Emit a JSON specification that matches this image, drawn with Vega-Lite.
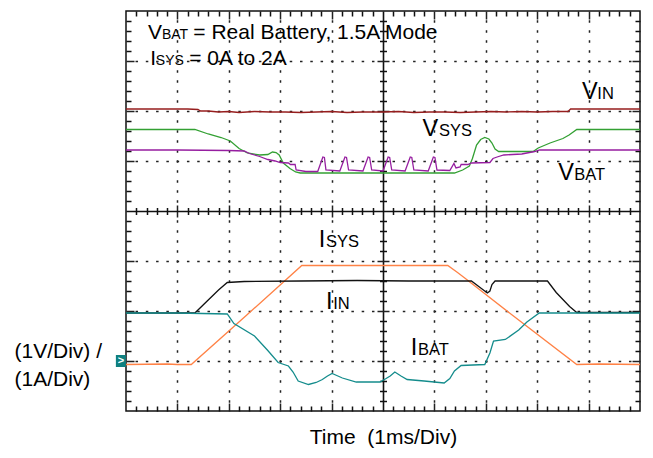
{
  "$schema": "https://vega.github.io/schema/vega-lite/v6.json",
  "width": 514,
  "height": 400,
  "autosize": "none",
  "padding": {"left": 126, "top": 11, "right": 13, "bottom": 47},
  "background": "white",
  "config": {
    "view": {"stroke": "#111", "strokeWidth": 1.5},
    "font": "Liberation Sans",
    "text": {"font": "Liberation Sans", "color": "#000"}
  },
  "datasets": {
    "traces": [
      {"s": "VIN", "x": 0, "y": 6.04}, {"s": "VIN", "x": 0.6, "y": 6.04}, {"s": "VIN", "x": 1.2, "y": 6.04}, {"s": "VIN", "x": 1.4, "y": 6.03}, {"s": "VIN", "x": 1.45, "y": 6.0}, {"s": "VIN", "x": 1.6, "y": 6.0}, {"s": "VIN", "x": 1.8, "y": 5.98}, {"s": "VIN", "x": 2.0, "y": 5.99}, {"s": "VIN", "x": 2.2, "y": 5.97}, {"s": "VIN", "x": 2.5, "y": 5.99}, {"s": "VIN", "x": 2.8, "y": 5.98}, {"s": "VIN", "x": 3.1, "y": 5.98}, {"s": "VIN", "x": 3.4, "y": 5.97}, {"s": "VIN", "x": 3.7, "y": 5.98}, {"s": "VIN", "x": 4.0, "y": 5.99}, {"s": "VIN", "x": 4.3, "y": 5.97}, {"s": "VIN", "x": 4.6, "y": 5.98}, {"s": "VIN", "x": 5.0, "y": 5.98}, {"s": "VIN", "x": 5.3, "y": 5.99}, {"s": "VIN", "x": 5.6, "y": 5.97}, {"s": "VIN", "x": 5.9, "y": 5.98}, {"s": "VIN", "x": 6.2, "y": 5.98}, {"s": "VIN", "x": 6.5, "y": 5.97}, {"s": "VIN", "x": 6.8, "y": 5.98}, {"s": "VIN", "x": 7.1, "y": 5.99}, {"s": "VIN", "x": 7.4, "y": 5.98}, {"s": "VIN", "x": 7.7, "y": 5.99}, {"s": "VIN", "x": 8.0, "y": 5.98}, {"s": "VIN", "x": 8.3, "y": 5.99}, {"s": "VIN", "x": 8.6, "y": 5.99}, {"s": "VIN", "x": 8.65, "y": 6.04}, {"s": "VIN", "x": 9.2, "y": 6.04}, {"s": "VIN", "x": 10, "y": 6.04},

      {"s": "VSYS", "x": 0, "y": 5.63}, {"s": "VSYS", "x": 1.34, "y": 5.63}, {"s": "VSYS", "x": 1.6, "y": 5.54}, {"s": "VSYS", "x": 1.85, "y": 5.47}, {"s": "VSYS", "x": 2.03, "y": 5.4}, {"s": "VSYS", "x": 2.2, "y": 5.25}, {"s": "VSYS", "x": 2.36, "y": 5.16}, {"s": "VSYS", "x": 2.6, "y": 5.12}, {"s": "VSYS", "x": 2.76, "y": 5.13}, {"s": "VSYS", "x": 2.85, "y": 5.18}, {"s": "VSYS", "x": 2.92, "y": 5.17}, {"s": "VSYS", "x": 2.98, "y": 5.12}, {"s": "VSYS", "x": 3.06, "y": 4.96}, {"s": "VSYS", "x": 3.19, "y": 4.85}, {"s": "VSYS", "x": 3.3, "y": 4.78}, {"s": "VSYS", "x": 3.39, "y": 4.76}, {"s": "VSYS", "x": 6.39, "y": 4.76}, {"s": "VSYS", "x": 6.55, "y": 4.82}, {"s": "VSYS", "x": 6.68, "y": 4.9}, {"s": "VSYS", "x": 6.74, "y": 5.05}, {"s": "VSYS", "x": 6.82, "y": 5.32}, {"s": "VSYS", "x": 6.9, "y": 5.43}, {"s": "VSYS", "x": 6.98, "y": 5.47}, {"s": "VSYS", "x": 7.06, "y": 5.44}, {"s": "VSYS", "x": 7.12, "y": 5.36}, {"s": "VSYS", "x": 7.18, "y": 5.24}, {"s": "VSYS", "x": 7.25, "y": 5.19}, {"s": "VSYS", "x": 7.92, "y": 5.19}, {"s": "VSYS", "x": 8.02, "y": 5.26}, {"s": "VSYS", "x": 8.25, "y": 5.36}, {"s": "VSYS", "x": 8.5, "y": 5.45}, {"s": "VSYS", "x": 8.62, "y": 5.52}, {"s": "VSYS", "x": 8.77, "y": 5.63}, {"s": "VSYS", "x": 10, "y": 5.63},

      {"s": "VBAT", "x": 0, "y": 5.22}, {"s": "VBAT", "x": 1.0, "y": 5.22}, {"s": "VBAT", "x": 2.0, "y": 5.21}, {"s": "VBAT", "x": 2.3, "y": 5.2}, {"s": "VBAT", "x": 2.4, "y": 5.15}, {"s": "VBAT", "x": 2.6, "y": 5.09}, {"s": "VBAT", "x": 2.76, "y": 5.03}, {"s": "VBAT", "x": 2.9, "y": 5.0}, {"s": "VBAT", "x": 3.0, "y": 4.97}, {"s": "VBAT", "x": 3.16, "y": 4.96}, {"s": "VBAT", "x": 3.2, "y": 4.93}, {"s": "VBAT", "x": 3.29, "y": 4.93}, {"s": "VBAT", "x": 3.31, "y": 4.82}, {"s": "VBAT", "x": 3.5, "y": 4.79}, {"s": "VBAT", "x": 3.73, "y": 4.79}, {"s": "VBAT", "x": 3.83, "y": 5.08}, {"s": "VBAT", "x": 3.86, "y": 5.07}, {"s": "VBAT", "x": 3.89, "y": 4.82}, {"s": "VBAT", "x": 4.16, "y": 4.8}, {"s": "VBAT", "x": 4.26, "y": 5.08}, {"s": "VBAT", "x": 4.29, "y": 5.07}, {"s": "VBAT", "x": 4.33, "y": 4.82}, {"s": "VBAT", "x": 4.61, "y": 4.8}, {"s": "VBAT", "x": 4.71, "y": 5.08}, {"s": "VBAT", "x": 4.74, "y": 5.07}, {"s": "VBAT", "x": 4.78, "y": 4.82}, {"s": "VBAT", "x": 5.0, "y": 4.8}, {"s": "VBAT", "x": 5.1, "y": 5.08}, {"s": "VBAT", "x": 5.13, "y": 5.07}, {"s": "VBAT", "x": 5.17, "y": 4.82}, {"s": "VBAT", "x": 5.43, "y": 4.8}, {"s": "VBAT", "x": 5.53, "y": 5.08}, {"s": "VBAT", "x": 5.56, "y": 5.07}, {"s": "VBAT", "x": 5.6, "y": 4.82}, {"s": "VBAT", "x": 5.88, "y": 4.8}, {"s": "VBAT", "x": 5.98, "y": 5.08}, {"s": "VBAT", "x": 6.01, "y": 5.07}, {"s": "VBAT", "x": 6.05, "y": 4.82}, {"s": "VBAT", "x": 6.3, "y": 4.81}, {"s": "VBAT", "x": 6.38, "y": 4.95}, {"s": "VBAT", "x": 6.42, "y": 4.86}, {"s": "VBAT", "x": 6.5, "y": 4.88}, {"s": "VBAT", "x": 6.52, "y": 4.93}, {"s": "VBAT", "x": 6.65, "y": 4.93}, {"s": "VBAT", "x": 6.72, "y": 4.96}, {"s": "VBAT", "x": 7.08, "y": 4.97}, {"s": "VBAT", "x": 7.14, "y": 5.05}, {"s": "VBAT", "x": 7.22, "y": 5.08}, {"s": "VBAT", "x": 7.35, "y": 5.12}, {"s": "VBAT", "x": 7.7, "y": 5.14}, {"s": "VBAT", "x": 7.95, "y": 5.19}, {"s": "VBAT", "x": 8.05, "y": 5.22}, {"s": "VBAT", "x": 10, "y": 5.22},

      {"s": "ISYS", "x": 0, "y": 0.93}, {"s": "ISYS", "x": 0.8, "y": 0.94}, {"s": "ISYS", "x": 1.0, "y": 0.93}, {"s": "ISYS", "x": 1.27, "y": 0.93}, {"s": "ISYS", "x": 2.35, "y": 1.92}, {"s": "ISYS", "x": 3.42, "y": 2.91}, {"s": "ISYS", "x": 4.5, "y": 2.91}, {"s": "ISYS", "x": 5.5, "y": 2.91}, {"s": "ISYS", "x": 6.26, "y": 2.91}, {"s": "ISYS", "x": 6.45, "y": 2.77}, {"s": "ISYS", "x": 6.59, "y": 2.66}, {"s": "ISYS", "x": 7.5, "y": 1.93}, {"s": "ISYS", "x": 8.77, "y": 0.93}, {"s": "ISYS", "x": 9.2, "y": 0.94}, {"s": "ISYS", "x": 10, "y": 0.93},

      {"s": "IIN", "x": 0, "y": 1.96}, {"s": "IIN", "x": 1.34, "y": 1.96}, {"s": "IIN", "x": 1.6, "y": 2.22}, {"s": "IIN", "x": 1.8, "y": 2.42}, {"s": "IIN", "x": 1.97, "y": 2.57}, {"s": "IIN", "x": 2.3, "y": 2.59}, {"s": "IIN", "x": 3.4, "y": 2.6}, {"s": "IIN", "x": 4.5, "y": 2.61}, {"s": "IIN", "x": 5.5, "y": 2.6}, {"s": "IIN", "x": 6.72, "y": 2.6}, {"s": "IIN", "x": 6.85, "y": 2.5}, {"s": "IIN", "x": 7.03, "y": 2.36}, {"s": "IIN", "x": 7.08, "y": 2.4}, {"s": "IIN", "x": 7.12, "y": 2.53}, {"s": "IIN", "x": 7.18, "y": 2.6}, {"s": "IIN", "x": 8.2, "y": 2.6}, {"s": "IIN", "x": 8.37, "y": 2.37}, {"s": "IIN", "x": 8.63, "y": 2.09}, {"s": "IIN", "x": 8.77, "y": 1.97}, {"s": "IIN", "x": 10, "y": 1.97},

      {"s": "IBAT", "x": 0, "y": 1.96}, {"s": "IBAT", "x": 1.0, "y": 1.96}, {"s": "IBAT", "x": 1.97, "y": 1.94}, {"s": "IBAT", "x": 2.1, "y": 1.75}, {"s": "IBAT", "x": 2.5, "y": 1.5}, {"s": "IBAT", "x": 2.75, "y": 1.22}, {"s": "IBAT", "x": 2.96, "y": 0.97}, {"s": "IBAT", "x": 3.16, "y": 0.9}, {"s": "IBAT", "x": 3.25, "y": 0.78}, {"s": "IBAT", "x": 3.35, "y": 0.6}, {"s": "IBAT", "x": 3.55, "y": 0.53}, {"s": "IBAT", "x": 3.7, "y": 0.57}, {"s": "IBAT", "x": 3.82, "y": 0.63}, {"s": "IBAT", "x": 3.92, "y": 0.7}, {"s": "IBAT", "x": 4.01, "y": 0.75}, {"s": "IBAT", "x": 4.1, "y": 0.71}, {"s": "IBAT", "x": 4.21, "y": 0.66}, {"s": "IBAT", "x": 4.48, "y": 0.58}, {"s": "IBAT", "x": 4.94, "y": 0.58}, {"s": "IBAT", "x": 5.06, "y": 0.65}, {"s": "IBAT", "x": 5.14, "y": 0.7}, {"s": "IBAT", "x": 5.23, "y": 0.78}, {"s": "IBAT", "x": 5.35, "y": 0.7}, {"s": "IBAT", "x": 5.47, "y": 0.63}, {"s": "IBAT", "x": 5.8, "y": 0.6}, {"s": "IBAT", "x": 6.19, "y": 0.56}, {"s": "IBAT", "x": 6.3, "y": 0.65}, {"s": "IBAT", "x": 6.39, "y": 0.8}, {"s": "IBAT", "x": 6.52, "y": 0.91}, {"s": "IBAT", "x": 6.98, "y": 0.93}, {"s": "IBAT", "x": 7.08, "y": 1.16}, {"s": "IBAT", "x": 7.15, "y": 1.4}, {"s": "IBAT", "x": 7.38, "y": 1.43}, {"s": "IBAT", "x": 7.64, "y": 1.62}, {"s": "IBAT", "x": 7.8, "y": 1.78}, {"s": "IBAT", "x": 8.04, "y": 1.96}, {"s": "IBAT", "x": 10, "y": 1.96}
    ],
    "bigLabels": [
      {"t": "V", "x": 8.87, "y": 6.24}, {"t": "V", "x": 5.77, "y": 5.51}, {"t": "V", "x": 8.41, "y": 4.63},
      {"t": "I", "x": 3.75, "y": 3.29}, {"t": "I", "x": 3.89, "y": 2.04}, {"t": "I", "x": 5.54, "y": 1.13}
    ],
    "subLabels": [
      {"t": "IN", "x": 9.17, "y": 6.24}, {"t": "SYS", "x": 6.09, "y": 5.51}, {"t": "BAT", "x": 8.72, "y": 4.63},
      {"t": "SYS", "x": 3.89, "y": 3.29}, {"t": "IN", "x": 4.03, "y": 2.04}, {"t": "BAT", "x": 5.68, "y": 1.13}
    ],
    "noteMain": [
      {"t": "V", "x": 0.43, "y": 7.44}, {"t": "= Real Battery, 1.5A Mode", "x": 1.31, "y": 7.44},
      {"t": "I", "x": 0.47, "y": 6.92}, {"t": "= 0A to 2A", "x": 1.23, "y": 6.92}
    ],
    "noteSub": [
      {"t": "BAT", "x": 0.7, "y": 7.44}, {"t": "SYS", "x": 0.58, "y": 6.92}
    ],
    "marker": [{"t": ">", "x": -0.1, "y": 1.0}]
  },
  "encoding": {
    "x": {
      "field": "x", "type": "quantitative",
      "scale": {"domain": [0, 10], "nice": false, "zero": false},
      "axis": {
        "values": [0.2,0.4,0.6,0.8,1,1.2,1.4,1.6,1.8,2,2.2,2.4,2.6,2.8,3,3.2,3.4,3.6,3.8,4,4.2,4.4,4.6,4.8,5,5.2,5.4,5.6,5.8,6,6.2,6.4,6.6,6.8,7,7.2,7.4,7.6,7.8,8,8.2,8.4,8.6,8.8,9,9.2,9.4,9.6,9.8],
        "labels": false, "ticks": false, "domain": false, "grid": true,
        "gridColor": {"condition": {"test": "datum.value % 1 === 0 && datum.value !== 5", "value": "#222222"}, "value": "#111111"},
        "gridOpacity": 1,
        "gridWidth": {"condition": {"test": "datum.value === 5", "value": 1.6}, "value": 1.5},
        "gridDash": {
          "condition": [
            {"test": "datum.value === 5", "value": []},
            {"test": "datum.value % 1 !== 0", "value": [5, 191.5, 7, 191.5, 5, 1000]}
          ],
          "value": [8,0.75,2.5,7.5,2.5,7.5,2.5,7.5,2.5,7.5,2.5,7.5,2.5,7.5,2.5,7.5,2.5,7.5,2.5,7.5,2.5,7.5,2.5,7.5,2.5,7.5,2.5,7.5,2.5,7.5,2.5,7.5,2.5,7.5,2.5,7.5,2.5,7.5,2.5,2.75,12,2.75,2.5,7.5,2.5,7.5,2.5,7.5,2.5,7.5,2.5,7.5,2.5,7.5,2.5,7.5,2.5,7.5,2.5,7.5,2.5,7.5,2.5,7.5,2.5,7.5,2.5,7.5,2.5,7.5,2.5,7.5,2.5,7.5,2.5,7.5,2.5,7.5,2.5,0.75,8,1000]
        },
        "title": "Time\u00a0 (1ms/Div)",
        "titleFont": "Liberation Sans", "titleFontSize": 21, "titleFontWeight": "normal", "titleColor": "#000",
        "titleBaseline": "alphabetic", "titleY": 32
      }
    },
    "y": {
      "field": "y", "type": "quantitative",
      "scale": {"domain": [0, 8], "nice": false, "zero": false},
      "axis": {
        "values": [0.2,0.4,0.6,0.8,1,1.2,1.4,1.6,1.8,2,2.2,2.4,2.6,2.8,3,3.2,3.4,3.6,3.8,4,4.2,4.4,4.6,4.8,5,5.2,5.4,5.6,5.8,6,6.2,6.4,6.6,6.8,7,7.2,7.4,7.6,7.8],
        "labels": false, "ticks": false, "domain": false, "grid": true,
        "gridColor": {"condition": {"test": "datum.value % 1 === 0 && datum.value !== 4", "value": "#222222"}, "value": "#111111"},
        "gridOpacity": 1,
        "gridWidth": {"condition": {"test": "datum.value === 4", "value": 1.6}, "value": 1.5},
        "gridDash": {
          "condition": [
            {"test": "datum.value === 4", "value": []},
            {"test": "datum.value % 1 !== 0", "value": [5, 248.5, 7, 248.5, 5, 1000]}
          ],
          "value": [8,1.03,2.5,7.78,2.5,7.78,2.5,7.78,2.5,7.78,2.5,7.78,2.5,7.78,2.5,7.78,2.5,7.78,2.5,7.78,2.5,7.78,2.5,7.78,2.5,7.78,2.5,7.78,2.5,7.78,2.5,7.78,2.5,7.78,2.5,7.78,2.5,7.78,2.5,7.78,2.5,7.78,2.5,7.78,2.5,7.78,2.5,7.78,2.5,3.03,12,3.03,2.5,7.78,2.5,7.78,2.5,7.78,2.5,7.78,2.5,7.78,2.5,7.78,2.5,7.78,2.5,7.78,2.5,7.78,2.5,7.78,2.5,7.78,2.5,7.78,2.5,7.78,2.5,7.78,2.5,7.78,2.5,7.78,2.5,7.78,2.5,7.78,2.5,7.78,2.5,7.78,2.5,7.78,2.5,7.78,2.5,7.78,2.5,1.03,8,1000]
        },
        "title": ["(1V/Div) /", "(1A/Div)"],
        "titleFont": "Liberation Sans", "titleFontSize": 21, "titleFontWeight": "normal", "titleColor": "#000",
        "titleAngle": 0, "titleAlign": "left", "titleBaseline": "alphabetic",
        "titleX": -112, "titleY": 346, "titleLineHeight": 28
      }
    }
  },
  "layer": [
    {
      "data": {"name": "traces"},
      "mark": {"type": "line", "strokeWidth": 1.3},
      "encoding": {
        "color": {
          "field": "s", "type": "nominal",
          "scale": {"domain": ["VIN", "VSYS", "VBAT", "ISYS", "IIN", "IBAT"], "range": ["#961e1e", "#33a033", "#961ea0", "#ff8246", "#111111", "#148c8c"]},
          "legend": null
        }
      }
    },
    {
      "data": {"name": "bigLabels"},
      "mark": {"type": "text", "fontSize": 23.5, "align": "left", "baseline": "alphabetic", "font": "Liberation Sans", "color": "#000"},
      "encoding": {"text": {"field": "t"}}
    },
    {
      "data": {"name": "subLabels"},
      "mark": {"type": "text", "fontSize": 16.5, "align": "left", "baseline": "alphabetic", "font": "Liberation Sans", "color": "#000"},
      "encoding": {"text": {"field": "t"}}
    },
    {
      "data": {"name": "noteMain"},
      "mark": {"type": "text", "fontSize": 21, "align": "left", "baseline": "alphabetic", "font": "Liberation Sans", "color": "#000"},
      "encoding": {"text": {"field": "t"}}
    },
    {
      "data": {"name": "noteSub"},
      "mark": {"type": "text", "fontSize": 14, "align": "left", "baseline": "alphabetic", "font": "Liberation Sans", "color": "#000"},
      "encoding": {"text": {"field": "t"}}
    },
    {
      "data": {"name": "marker"},
      "mark": {"type": "point", "shape": "M-0.83,-1H0.83V1H-0.83Z", "filled": true, "size": 144, "color": "#0e8080", "opacity": 1}
    },
    {
      "data": {"name": "marker"},
      "mark": {"type": "text", "fontSize": 11, "fontWeight": "bold", "align": "center", "baseline": "middle", "font": "Liberation Sans", "color": "white"},
      "encoding": {"text": {"field": "t"}}
    }
  ]
}
